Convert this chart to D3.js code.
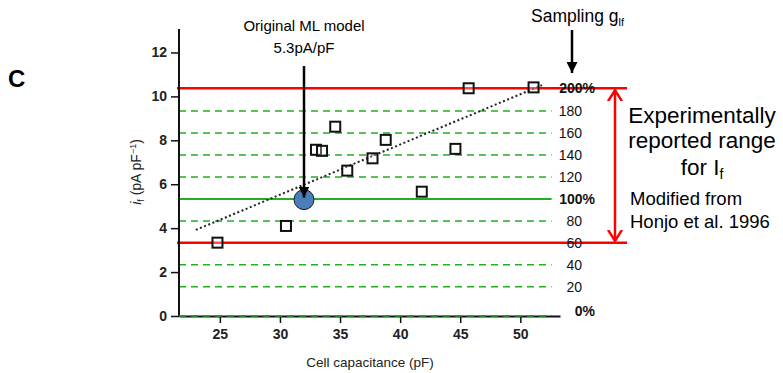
<!DOCTYPE html>
<html>
<head>
<meta charset="utf-8">
<script src="https://cdn.jsdelivr.net/npm/d3@7"></script>
<style>
  body { margin: 0; background: #fff; }
  svg { font-family: "Liberation Sans", Arial, sans-serif; }
</style>
</head>
<body>
<svg id="chart" width="783" height="373"></svg>
<script>
// cell capacitance (pF) vs If density (pA/pF), Honjo et al. 1996
var capX = [24.8, 30.5, 33.0, 33.5, 34.6, 35.6, 37.7, 38.8, 41.8, 44.6, 45.7, 51.1];
var capY = [3.34, 4.10, 7.57, 7.52, 8.62, 6.62, 7.18, 8.02, 5.66, 7.61, 10.37, 10.41];

var trendX = [23.0, 51.8];
var trendY = [3.92, 10.51];

var mlCap = 32.0;
var mlValue = 5.3;

// sampling levels of g_lf (percent of original) and where they sit on the axis
var pctLevels = [0, 20, 40, 60, 80, 100, 120, 140, 160, 180, 200];
var pctValues = [0, 1.33, 2.33, 3.33, 4.33, 5.33, 6.33, 7.33, 8.33, 9.33, 10.37];

var xTicks = [25, 30, 35, 40, 45, 50];
var yTicks = [0, 2, 4, 6, 8, 10, 12];

var green = "#22b022", red = "#ff0000";

var svg = d3.select('#chart');

var x = d3.scaleLinear().domain([21.6, 53.3]).range([179, 560]);
var y = d3.scaleLinear().domain([0, 13]).range([316, 30.5]);

// arrow markers
var defs = svg.append('defs');
defs.append('marker')
    .attr('id', 'tri')
    .attr('viewBox', '0 0 10 10')
    .attr('refX', 10).attr('refY', 5)
    .attr('markerWidth', 11).attr('markerHeight', 11)
    .attr('markerUnits', 'userSpaceOnUse')
    .attr('orient', 'auto')
    .append('path').attr('d', 'M0,0 L10,5 L0,10 Z').attr('fill', '#000');
defs.append('marker')
    .attr('id', 'chev')
    .attr('viewBox', '0 0 12 16')
    .attr('refX', 11).attr('refY', 8)
    .attr('markerWidth', 12).attr('markerHeight', 16)
    .attr('markerUnits', 'userSpaceOnUse')
    .attr('orient', 'auto-start-reverse')
    .append('path').attr('d', 'M0,1 L11,8 L0,15')
    .attr('fill', 'none').attr('stroke', red).attr('stroke-width', 2.5);

// green sampling lines
svg.selectAll('.lvl')
    .data(pctLevels.map((p, i) => ({p: p, v: pctValues[i]})))
    .enter()
    .append('line')
    .attr('class', 'lvl')
    .attr('x1', x(21.6)).attr('x2', x(52.6))
    .attr('y1', d => y(d.v)).attr('y2', d => y(d.v))
    .attr('stroke', green)
    .attr('stroke-width', d => d.p == 100 ? 2 : 1.5)
    .attr('stroke-dasharray', d => d.p == 100 ? null : '7,5');

// red range lines
[60, 200].forEach(p => {
    var v = pctValues[pctLevels.indexOf(p)];
    svg.append('line')
        .attr('x1', x(21.6) - 2).attr('x2', 627)
        .attr('y1', y(v)).attr('y2', y(v))
        .attr('stroke', red).attr('stroke-width', 2.5);
});

// level labels
svg.selectAll('.lvlLabel')
    .data(pctLevels.map((p, i) => ({p: p, v: pctValues[i]})))
    .enter()
    .append('text')
    .attr('x', d => (d.p % 100 == 0) ? 595 : 582)
    .attr('y', d => y(d.v) - (d.p == 0 ? 5 : 0))
    .attr('dy', '0.35em')
    .attr('text-anchor', 'end')
    .attr('font-size', 14)
    .attr('font-weight', d => (d.p % 100 == 0) ? 'bold' : 'normal')
    .attr('fill', '#111')
    .text(d => (d.p % 100 == 0) ? d.p + '%' : d.p);

// axes
var yAxis = svg.append('g')
    .attr('transform', 'translate(' + x(21.6) + ',0)')
    .call(d3.axisLeft(y).tickValues(yTicks).tickSize(8).tickPadding(4).tickSizeOuter(0));
var xAxis = svg.append('g')
    .attr('transform', 'translate(0,' + y(0) + ')')
    .call(d3.axisBottom(x).tickValues(xTicks).tickSize(7).tickPadding(6).tickSizeOuter(0));
[yAxis, xAxis].forEach(g => {
    g.select('.domain').attr('stroke', '#111').attr('stroke-width', 2);
    g.selectAll('.tick line').attr('stroke', '#111').attr('stroke-width', 1.5);
    g.selectAll('.tick text').attr('font-size', 14).attr('font-weight', 'bold')
        .attr('fill', '#222').attr('font-family', '"Liberation Sans", Arial, sans-serif');
});
yAxis.select('.domain').attr('d', 'M0,' + y(0) + 'V29');
svg.append('line')
    .attr('x1', x(21.6)).attr('x2', 551)
    .attr('y1', y(0)).attr('y2', y(0))
    .attr('stroke', green).attr('stroke-width', 1.5).attr('stroke-dasharray', '7,5');

// trend line
svg.append('line')
    .attr('x1', x(trendX[0])).attr('y1', y(trendY[0]))
    .attr('x2', x(trendX[1])).attr('y2', y(trendY[1]))
    .attr('stroke', '#222').attr('stroke-width', 2).attr('stroke-dasharray', '2,2.5');

// data squares
svg.selectAll('.pt')
    .data(capX.map((c, i) => ({c: c, v: capY[i]})))
    .enter()
    .append('rect')
    .attr('x', d => x(d.c) - 5).attr('y', d => y(d.v) - 5)
    .attr('width', 10).attr('height', 10)
    .attr('fill', '#fff').attr('fill-opacity', 0.3)
    .attr('stroke', '#111').attr('stroke-width', 2);

// original model point and arrow
svg.append('circle')
    .attr('cx', x(mlCap)).attr('cy', y(mlValue)).attr('r', 10)
    .attr('fill', '#4a7ebb').attr('stroke', '#1a1a1a').attr('stroke-width', 1);
svg.append('line')
    .attr('x1', x(mlCap)).attr('x2', x(mlCap))
    .attr('y1', 66).attr('y2', y(mlValue) - 2)
    .attr('stroke', '#000').attr('stroke-width', 2.5).attr('marker-end', 'url(#tri)');
svg.append('text').attr('x', x(mlCap)).attr('y', 31).attr('text-anchor', 'middle')
    .attr('font-size', 15).text('Original ML model');
svg.append('text').attr('x', x(mlCap)).attr('y', 53).attr('text-anchor', 'middle')
    .attr('font-size', 15).text('5.3pA/pF');

// sampling arrow
var samp = svg.append('text').attr('x', 531).attr('y', 22).attr('font-size', 17.5);
samp.append('tspan').text('Sampling g');
samp.append('tspan').attr('font-size', 11).attr('dy', 4).text('lf');
svg.append('line')
    .attr('x1', 572).attr('x2', 572).attr('y1', 30).attr('y2', 73)
    .attr('stroke', '#000').attr('stroke-width', 2.5).attr('marker-end', 'url(#tri)');

// experimental range
var top200 = y(pctValues[pctLevels.indexOf(200)]);
var bot60 = y(pctValues[pctLevels.indexOf(60)]);
svg.append('line')
    .attr('x1', 615).attr('x2', 615).attr('y1', top200 + 2).attr('y2', bot60 - 2)
    .attr('stroke', red).attr('stroke-width', 2.5)
    .attr('marker-start', 'url(#chev)').attr('marker-end', 'url(#chev)');

svg.append('text').attr('x', 702).attr('y', 123).attr('text-anchor', 'middle')
    .attr('font-size', 22.5).text('Experimentally');
svg.append('text').attr('x', 702).attr('y', 148).attr('text-anchor', 'middle')
    .attr('font-size', 22.5).text('reported range');
var forI = svg.append('text').attr('x', 702).attr('y', 175).attr('text-anchor', 'middle')
    .attr('font-size', 22.5);
forI.append('tspan').text('for I');
forI.append('tspan').attr('font-size', 14).attr('dy', 4).text('f');
svg.append('text').attr('x', 630).attr('y', 205).attr('font-size', 18.5).text('Modified from');
svg.append('text').attr('x', 630).attr('y', 228).attr('font-size', 18.5).text('Honjo et al. 1996');

// axis titles
svg.append('text').attr('x', 370).attr('y', 367).attr('text-anchor', 'middle')
    .attr('font-size', 13.5).attr('fill', '#222').text('Cell capacitance (pF)');
var yl = svg.append('text')
    .attr('transform', 'translate(141,172) rotate(-90)')
    .attr('text-anchor', 'middle').attr('font-size', 14).attr('fill', '#222');
yl.append('tspan').attr('font-style', 'italic').text('i');
yl.append('tspan').attr('font-size', 9).attr('dy', 3).text('f');
yl.append('tspan').attr('dy', -3).text(' (pA pF');
yl.append('tspan').attr('font-size', 9).attr('dy', -5).text('−1');
yl.append('tspan').attr('dy', 5).text(')');

// panel letter
svg.append('text').attr('x', 8).attr('y', 87).attr('font-size', 24)
    .attr('font-weight', 'bold').text('C');
</script>
</body>
</html>
